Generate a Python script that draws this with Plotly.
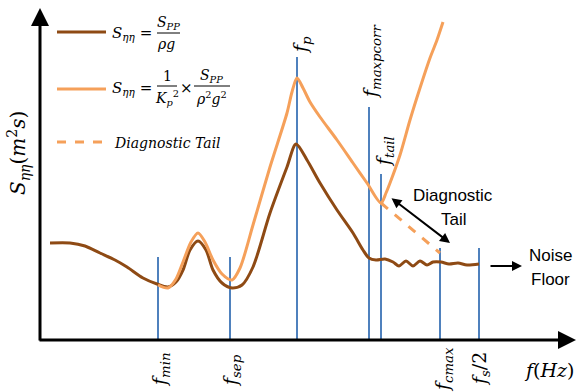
import plotly.graph_objects as go

# ---- schematic data (chart units: x = frequency position, y = spectral level, drawn top-down) ----
marker_labels = ["<i>f<sub>min</sub></i>", "<i>f<sub>sep</sub></i>", "<i>f<sub>p</sub></i>",
                 "<i>f<sub>maxpcorr</sub></i>", "<i>f<sub>tail</sub></i>", "<i>f<sub>cmax</sub></i>",
                 "<i>f<sub>s</sub></i>/2"]
marker_x = [158, 230, 297, 369, 381, 440, 479]
marker_top = [257, 257, 57, 107, 174, 248, 248]
axis_base = 340

brown_x = [50, 70, 85, 100, 115, 127, 143, 157, 168, 176, 183, 190, 198, 206, 213, 222, 232, 242,
           253, 270, 287, 296, 307, 320, 337, 353, 363, 369, 376, 385, 393, 399, 406, 413, 420,
           427, 433, 441, 449, 458, 467, 479]
brown_y = [243, 243, 246, 253, 260, 267, 278, 284, 287, 282, 270, 250, 241, 250, 270, 283, 288, 285,
           267, 213, 167, 144, 160, 183, 210, 233, 250, 258, 260, 259, 262, 266, 261, 266, 261,
           265, 262, 262, 264, 263, 265, 264]

orange_x = [158, 168, 176, 183, 191, 198, 205, 213, 222, 232, 240, 253, 270, 287, 292, 297, 303,
            310, 320, 337, 353, 367, 381, 386, 390, 400, 410, 420, 430, 437, 443]
orange_y = [285, 288, 279, 262, 242, 233, 242, 260, 274, 280, 268, 225, 167, 113, 92, 78, 88,
            102, 117, 140, 163, 183, 203, 193, 183, 155, 120, 88, 58, 40, 22]

tail_x = [381, 440]
tail_y = [203, 253]

BROWN = "#8E4A14"
ORANGE = "#F5A05A"
BLUE = "#4F81BD"
SERIF = "DejaVu Serif"
SANS = "Liberation Sans"

fig = go.Figure()

# vertical frequency markers
vx, vy = [], []
for x, t in zip(marker_x, marker_top):
    vx += [x, x, None]
    vy += [axis_base, t, None]
fig.add_trace(go.Scatter(x=vx, y=vy, mode="lines", line=dict(color=BLUE, width=2),
                         hoverinfo="skip", showlegend=False))

fig.add_trace(go.Scatter(x=brown_x, y=brown_y, mode="lines",
                         line=dict(color=BROWN, width=3, shape="spline", smoothing=0.8),
                         showlegend=False))
fig.add_trace(go.Scatter(x=orange_x, y=orange_y, mode="lines",
                         line=dict(color=ORANGE, width=3, shape="spline", smoothing=0.8),
                         showlegend=False))
fig.add_trace(go.Scatter(x=tail_x, y=tail_y, mode="lines",
                         line=dict(color=ORANGE, width=3, dash="dash"),
                         showlegend=False))

ann = []
def arrow(x0, y0, x1, y1, width=3, head=2, side="end", size=1):
    ann.append(dict(x=x1, y=y1, ax=x0, ay=y0, xref="x", yref="y", axref="x", ayref="y",
                    text="", showarrow=True, arrowhead=head, arrowwidth=width,
                    arrowcolor="black", arrowside=side, arrowsize=size, startarrowhead=head,
                    startarrowsize=size))

def txt(x, y, s, size=15, font=SERIF, angle=0, xanchor="center", color="black"):
    ann.append(dict(x=x, y=y, xref="x", yref="y", text=s, showarrow=False, textangle=angle,
                    xanchor=xanchor, yanchor="middle",
                    font=dict(family=font, size=size, color=color)))

# axes
arrow(40, 342, 40, 8, width=3, head=2, size=1.2)
arrow(38, 340, 576, 340, width=3, head=2, size=1.2)

# marker labels
label_pos = [(160, 370, -90), (231, 371, -90), (301, 45, -90), (371, 62, -90),
             (384, 152, -90), (443, 370, -90), (480, 369, -90)]
for s, (x, y, a) in zip(marker_labels, label_pos):
    txt(x, y, s, size=19, angle=a)
txt(549, 370, "<i>f</i>(<i>Hz</i>)", size=19)

# y title
txt(18, 153, "<i>S<sub>ηη</sub></i>(<i>m</i><sup>2</sup><i>s</i>)", size=20, angle=-90)

# annotations on right
arrow(390, 197, 450, 243, width=2, head=2, side="end+start", size=1)
txt(453, 195, "Diagnostic", size=17, font=SANS)
txt(454, 219, "Tail", size=17, font=SANS)
arrow(489, 266, 522, 266, width=2, head=2, size=1)
txt(550, 255, "Noise", size=17, font=SANS)
txt(550, 279, "Floor", size=17, font=SANS)

# legend texts
txt(110, 33, "<i>S<sub>ηη</sub></i> =", size=15, xanchor="left")
txt(168, 23, "<i>S<sub>PP</sub></i>", size=14)
txt(166, 44, "<i>ρg</i>", size=14)
txt(110, 88, "<i>S<sub>ηη</sub></i> =", size=15, xanchor="left")
txt(167, 76, "1", size=14)
txt(167, 98, "<i>K<sub>p</sub></i><sup>2</sup>", size=14)
txt(186, 88, "×", size=15)
txt(211, 76, "<i>S<sub>PP</sub></i>", size=14)
txt(211, 98, "<i>ρ</i><sup>2</sup><i>g</i><sup>2</sup>", size=14)
txt(112, 143, "<i>Diagnostic Tail</i>", size=14, xanchor="left")

shapes = [
    dict(type="line", x0=57, x1=106, y0=32, y1=32, line=dict(color=BROWN, width=3)),
    dict(type="line", x0=57, x1=106, y0=89, y1=89, line=dict(color=ORANGE, width=3)),
    dict(type="line", x0=57, x1=106, y0=142, y1=142, line=dict(color=ORANGE, width=3, dash="dash")),
    dict(type="line", x0=157, x1=180, y0=33, y1=33, line=dict(color="black", width=1)),
    dict(type="line", x0=157, x1=177, y0=86, y1=86, line=dict(color="black", width=1)),
    dict(type="line", x0=194, x1=230, y0=86, y1=86, line=dict(color="black", width=1)),
]

fig.update_layout(
    width=577, height=392, margin=dict(l=0, r=0, t=0, b=0),
    paper_bgcolor="white", plot_bgcolor="white",
    xaxis=dict(range=[0, 577], visible=False, fixedrange=True),
    yaxis=dict(range=[392, 0], visible=False, fixedrange=True),
    annotations=ann, shapes=shapes, showlegend=False,
)
fig.write_html("out.html")
